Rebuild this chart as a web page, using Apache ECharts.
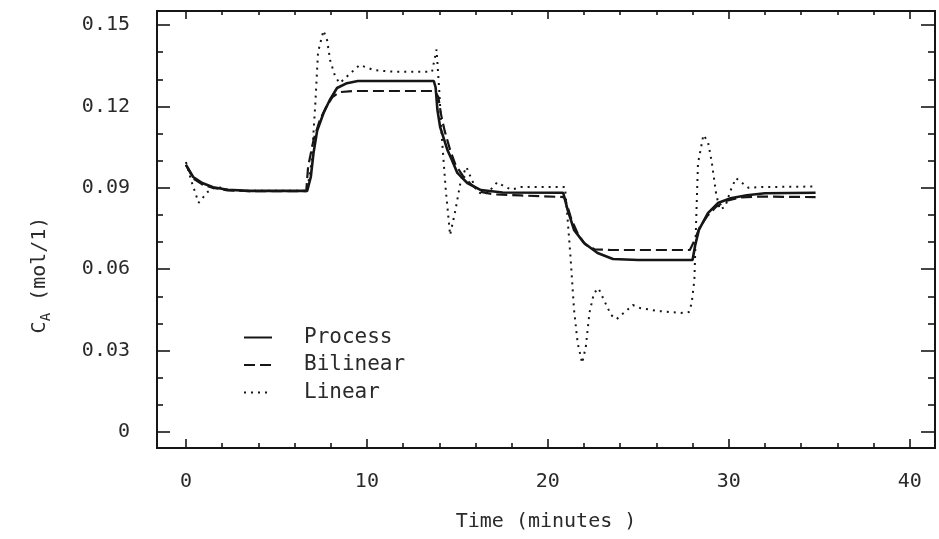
<!DOCTYPE html>
<html>
<head>
<meta charset="utf-8">
<script src="https://cdn.jsdelivr.net/npm/echarts@6/dist/echarts.min.js"></script>
<style>
  html, body { margin: 0; padding: 0; background: #fff; }
  #myChart { width: 939px; height: 539px; }
</style>
</head>
<body>
<div id="myChart"></div>
<script>
// tick positions
const xMajor = [0, 10, 20, 30, 40];
const xMinor = [2, 4, 6, 8, 12, 14, 16, 18, 22, 24, 26, 28, 32, 34, 36, 38];
const yMajor = [0, 0.03, 0.06, 0.09, 0.12, 0.15];
const yMinor = [0.01, 0.02, 0.04, 0.05, 0.07, 0.08, 0.10, 0.11, 0.13, 0.14];

// [time (min), C_A (mol/l)]
const processData = [
  [0, 0.0985], [0.4, 0.094], [0.9, 0.0918], [1.5, 0.0902], [2.3, 0.0893], [3.5, 0.0889], [6.7, 0.0889],
  [6.9, 0.094], [7.05, 0.1028], [7.25, 0.111], [7.6, 0.1175], [7.95, 0.1224], [8.35, 0.1268], [8.9, 0.1286],
  [9.5, 0.1294], [13.7, 0.1294],
  [13.8, 0.127], [13.9, 0.1187], [14.05, 0.1124], [14.45, 0.104], [14.7, 0.1003], [15.0, 0.0955],
  [15.55, 0.0918], [16.3, 0.0892], [17.5, 0.0883], [20.85, 0.0882],
  [21.1, 0.0818], [21.45, 0.0745], [22.0, 0.0697], [22.75, 0.066], [23.6, 0.0638], [25, 0.0634], [28.0, 0.0634],
  [28.15, 0.069], [28.35, 0.0745], [28.85, 0.0807], [29.4, 0.0844], [30.1, 0.0862], [31.0, 0.0873],
  [32.0, 0.088], [34.8, 0.0882]
];
const bilinearData = [
  [0, 0.0985], [0.4, 0.0935], [0.9, 0.0913], [1.5, 0.09], [2.3, 0.0891], [3.5, 0.0888], [6.65, 0.0888],
  [6.75, 0.0977], [7.05, 0.1076], [7.4, 0.115], [7.75, 0.1198], [8.1, 0.1235], [8.5, 0.1253], [9.2, 0.1257],
  [13.75, 0.1257],
  [13.95, 0.1235], [14.1, 0.117], [14.3, 0.111], [14.6, 0.104], [14.9, 0.0985], [15.3, 0.0945], [15.8, 0.091],
  [16.3, 0.0885], [17, 0.0876], [18.5, 0.0872], [20.9, 0.0866],
  [21.05, 0.084], [21.3, 0.0785], [21.7, 0.0725], [22.1, 0.069], [22.6, 0.0673], [23.5, 0.0671], [27.85, 0.0671],
  [28.1, 0.0705], [28.4, 0.0755], [28.8, 0.0795], [29.3, 0.083], [29.9, 0.0853], [30.6, 0.0864],
  [31.5, 0.0868], [34.8, 0.0866]
];
const linearData = [
  [0, 0.0995], [0.3, 0.0925], [0.7, 0.0845], [1.2, 0.0885], [1.7, 0.0905], [2.3, 0.0893], [3.5, 0.0889], [6.7, 0.0889],
  [6.95, 0.1], [7.15, 0.121], [7.3, 0.14], [7.6, 0.148], [7.8, 0.1445], [7.97, 0.137], [8.25, 0.131], [8.5, 0.1286],
  [9.1, 0.1323], [9.6, 0.1353], [10.4, 0.1334], [11.5, 0.1328], [13.6, 0.1328],
  [13.85, 0.141], [14.0, 0.126], [14.15, 0.108], [14.35, 0.09], [14.6, 0.0726], [14.9, 0.082], [15.2, 0.093],
  [15.5, 0.0977], [15.8, 0.093], [16.1, 0.0885], [16.5, 0.0875], [16.9, 0.0898], [17.2, 0.092], [17.6, 0.0905],
  [18.0, 0.0893], [18.5, 0.0903], [20.95, 0.0903],
  [21.1, 0.078], [21.25, 0.065], [21.45, 0.045], [21.65, 0.0328], [21.9, 0.0254], [22.1, 0.0314], [22.3, 0.0439],
  [22.55, 0.0512], [22.8, 0.053], [23.1, 0.0487], [23.5, 0.0431], [23.8, 0.0416], [24.2, 0.0439], [24.7, 0.0468],
  [25.1, 0.0457], [26.1, 0.0446], [27.35, 0.0439], [27.8, 0.0442],
  [27.95, 0.0475], [28.1, 0.056], [28.2, 0.078], [28.3, 0.099], [28.6, 0.1095], [28.85, 0.107], [29.05, 0.1],
  [29.3, 0.088], [29.5, 0.082], [29.8, 0.083], [30.1, 0.089], [30.4, 0.0936], [30.7, 0.092], [31.1, 0.09],
  [31.8, 0.0903], [34.8, 0.0905]
];

const ink = '#161616';
const font = 'DejaVu Sans Mono';
const xMin = -1.6, xMax = 41.4;
const yMin = -0.0059, yMax = 0.1552;

// one axis = one set of ticks (major / minor, bottom / top ...)
function xAx(pos, ticks, len, withLabels) {
  return {
    type: 'value', position: pos, min: xMin, max: xMax,
    axisLine: { show: true, onZero: false, lineStyle: { color: ink, width: 2 } },
    axisTick: { show: true, inside: true, length: len, customValues: ticks, lineStyle: { color: ink, width: 1.6 } },
    axisLabel: withLabels
      ? { show: true, customValues: ticks, margin: 24, color: '#2a2a2a', fontFamily: font, fontSize: 20 }
      : { show: false },
    splitLine: { show: false }
  };
}
function yAx(pos, ticks, len, withLabels) {
  return {
    type: 'value', position: pos, min: yMin, max: yMax,
    axisLine: { show: true, onZero: false, lineStyle: { color: ink, width: 2 } },
    axisTick: { show: true, inside: true, length: len, customValues: ticks, lineStyle: { color: ink, width: 1.6 } },
    axisLabel: withLabels
      ? {
          show: true, customValues: ticks, margin: 27, color: '#2a2a2a', fontFamily: font, fontSize: 20,
          formatter: v => (v === 0 ? '0' : v.toFixed(2))
        }
      : { show: false },
    splitLine: { show: false }
  };
}

const xBottom = xAx('bottom', xMajor, 9, true);
xBottom.name = 'Time (minutes )';
xBottom.nameLocation = 'middle';
xBottom.nameGap = 64;
xBottom.nameTextStyle = { color: '#2a2a2a', fontFamily: font, fontSize: 20 };

const chart = echarts.init(document.getElementById('myChart'));
chart.setOption({
  backgroundColor: '#ffffff',
  animation: false,
  grid: { left: 157, right: 4, top: 11, bottom: 91 },
  legend: {
    orient: 'vertical', left: 243, top: 327, padding: 0,
    itemWidth: 28, itemHeight: 14, itemGap: 6.5,
    // hide the circle marker, keep only the line sample
    itemStyle: { color: 'rgba(0,0,0,0)', borderWidth: 0, opacity: 0 },
    textStyle: { color: '#2a2a2a', fontFamily: font, fontSize: 21, lineHeight: 20, padding: [0, 0, 0, 27] },
    data: ['Process', 'Bilinear', 'Linear']
  },
  xAxis: [xBottom, xAx('bottom', xMinor, 5, false), xAx('top', xMajor, 8, false), xAx('top', xMinor, 4, false)],
  yAxis: [yAx('left', yMajor, 13, true), yAx('left', yMinor, 6, false), yAx('right', yMajor, 14, false), yAx('right', yMinor, 7, false)],
  graphic: [{
    type: 'text', x: 40, y: 275, rotation: Math.PI / 2,
    style: {
      text: '{c|C}{a|A}{c| (mol/1)}', align: 'center', verticalAlign: 'middle', fill: '#2a2a2a',
      rich: {
        c: { fontFamily: font, fontSize: 20, lineHeight: 26, fill: '#2a2a2a' },
        a: { fontFamily: font, fontSize: 14, lineHeight: 14, verticalAlign: 'bottom', fill: '#2a2a2a' }
      }
    }
  }],
  series: [
    {
      name: 'Process', type: 'line', data: processData, symbol: 'none',
      lineStyle: { color: ink, width: 2.6 }, itemStyle: { color: ink }
    },
    {
      name: 'Bilinear', type: 'line', data: bilinearData, symbol: 'none',
      lineStyle: { color: ink, width: 2.2, type: [11, 5] }, itemStyle: { color: ink }
    },
    {
      name: 'Linear', type: 'line', data: linearData, symbol: 'none',
      lineStyle: { color: ink, width: 2, type: [2, 5] }, itemStyle: { color: ink }
    }
  ]
});
</script>
</body>
</html>
